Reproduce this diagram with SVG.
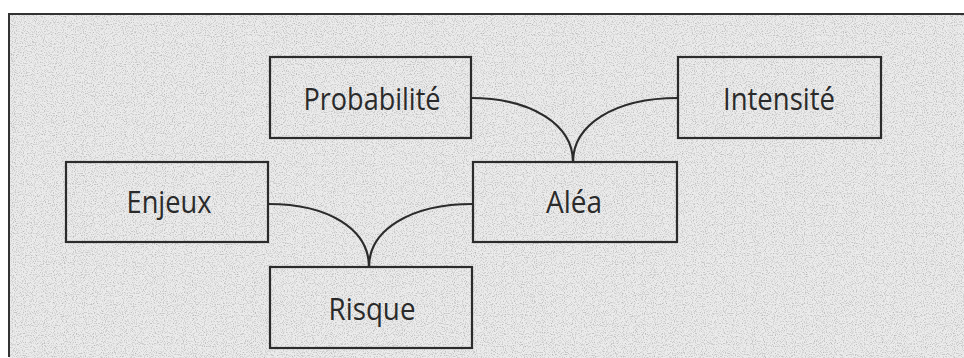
<svg xmlns="http://www.w3.org/2000/svg" width="964" height="358" viewBox="0 0 964 358">
<defs>
<filter id="grain" x="0" y="0" width="100%" height="100%">
<feTurbulence type="fractalNoise" baseFrequency="0.9" numOctaves="2" seed="3" result="n"/>
<feColorMatrix in="n" type="matrix" values="0 0 0 0 0.4  0 0 0 0 0.4  0 0 0 0 0.4  0 0 0 -2.4 1.3" result="g"/>
<feComposite in="g" in2="SourceGraphic" operator="in"/>
</filter>
</defs>
<style>
.box{fill:none;stroke:#2b2b2b;stroke-width:2.2}
.lbl{font-family:"Open Sans","Noto Sans",sans-serif;font-size:31px;fill:#2a2a2a;text-anchor:middle}
.con{fill:none;stroke:#2b2b2b;stroke-width:2.2}
</style>
<rect x="0" y="0" width="964" height="358" fill="#ffffff"/>
<rect x="9" y="14" width="955" height="344" fill="#ececec"/>
<rect x="9" y="14" width="955" height="344" fill="#ffffff" filter="url(#grain)" opacity="0.85"/>
<path d="M9,357 V14 H964" fill="none" stroke="#333" stroke-width="2"/>
<g id="connectors">
<path class="con" d="M471,98 C532,98 573,125 573,162"/>
<path class="con" d="M678,98 C614,98 573,125 573,162"/>
<path class="con" d="M268,204 C330,204 369,230 369,267"/>
<path class="con" d="M473,204 C410,204 369,230 369,267"/>
</g>
<g id="probabilite">
<rect class="box" x="270" y="57" width="201" height="81"/>
<text class="lbl" x="372" y="110" textLength="137" lengthAdjust="spacingAndGlyphs">Probabilité</text>
</g>
<g id="intensite">
<rect class="box" x="678" y="57" width="203" height="81"/>
<text class="lbl" x="779" y="110" textLength="112" lengthAdjust="spacingAndGlyphs">Intensité</text>
</g>
<g id="enjeux">
<rect class="box" x="66" y="162" width="202" height="80"/>
<text class="lbl" x="169" y="213" textLength="85" lengthAdjust="spacingAndGlyphs">Enjeux</text>
</g>
<g id="alea">
<rect class="box" x="473" y="162" width="204" height="80"/>
<text class="lbl" x="574" y="213" textLength="56" lengthAdjust="spacingAndGlyphs">Aléa</text>
</g>
<g id="risque">
<rect class="box" x="270" y="267" width="202" height="81"/>
<text class="lbl" x="372" y="320" textLength="87" lengthAdjust="spacingAndGlyphs">Risque</text>
</g>
</svg>
